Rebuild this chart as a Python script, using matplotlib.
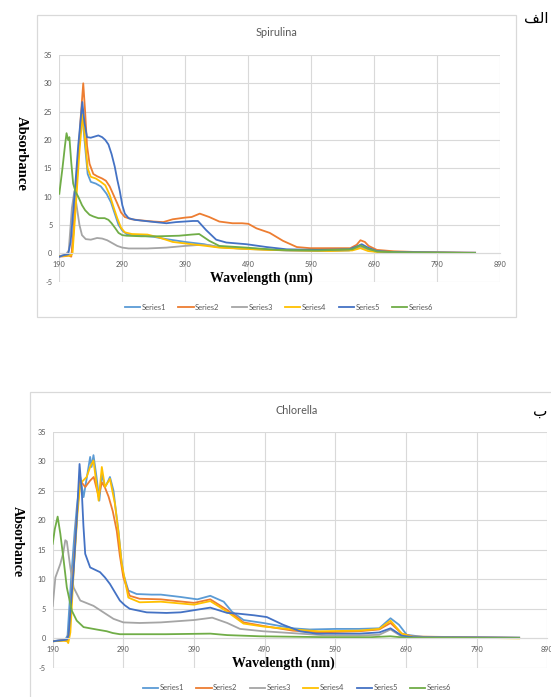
import matplotlib
matplotlib.use('Agg')
import matplotlib.pyplot as plt
from matplotlib.patches import Rectangle
from matplotlib.lines import Line2D

plt.rcParams['axes.unicode_minus'] = False

# ---------------- DATA ----------------
SERIES_NAMES = ["Series1", "Series2", "Series3", "Series4", "Series5", "Series6"]
SERIES_COLORS = ["#5B9BD5", "#ED7D31", "#A5A5A5", "#FFC000", "#4472C4", "#70AD47"]
X_TICKS = [190, 290, 390, 490, 590, 690, 790, 890]
Y_TICKS = [-5, 0, 5, 10, 15, 20, 25, 30, 35]

# Spirulina
SP_WL1 = [190, 205, 210, 215, 220, 226, 230, 235, 240, 248, 256, 265, 272, 278, 284, 290, 298, 320, 340, 360, 390, 420, 440, 470, 500, 550, 600, 650, 670, 685, 700, 750, 850]
SP_A1 = [-0.5, -0.3, 0, 8, 17, 25, 20, 14, 12.6, 12.3, 11.8, 10.5, 9, 7, 5, 4, 3.3, 3.1, 2.9, 2.5, 2.0, 1.6, 1.1, 0.9, 0.8, 0.5, 0.4, 0.5, 1.2, 0.5, 0.2, 0.1, 0.05]

SP_WL2 = [190, 200, 205, 209, 212, 218, 224, 228, 231, 234, 238, 244, 250, 258, 264, 270, 276, 282, 288, 294, 305, 320, 340, 355, 370, 390, 400, 413, 428, 444, 465, 480, 490, 503, 524, 545, 567, 588, 625, 652, 662, 668, 675, 681, 694, 721, 763, 850]
SP_A2 = [-0.6, -0.5, -0.4, -0.6, 3, 13, 24, 30, 25, 19, 15.8, 14, 13.6, 13.2, 12.8, 11.8, 10.3, 8.8, 7.2, 6.4, 6, 5.8, 5.6, 5.5, 6.0, 6.3, 6.4, 7.0, 6.4, 5.6, 5.3, 5.3, 5.2, 4.4, 3.6, 2.2, 1.1, 0.9, 0.9, 0.9, 1.5, 2.3, 2.0, 1.3, 0.6, 0.35, 0.2, 0.1]

SP_WL3 = [190, 200, 205, 210, 214, 218, 222, 226, 232, 240, 250, 258, 266, 274, 282, 290, 300, 330, 360, 390, 415, 430, 445, 480, 520, 560, 620, 655, 668, 680, 695, 730, 850]
SP_A3 = [-0.5, -0.3, 0.5, 8, 11, 8, 5, 3.2, 2.5, 2.4, 2.7, 2.6, 2.3, 1.8, 1.3, 1.0, 0.85, 0.85, 1.0, 1.3, 1.5, 1.4, 1.1, 0.8, 0.6, 0.5, 0.5, 0.6, 1.1, 0.7, 0.3, 0.15, 0.05]

SP_WL4 = [190, 208, 211, 216, 222, 227, 231, 235, 240, 248, 256, 263, 270, 276, 282, 288, 294, 305, 330, 348, 370, 400, 423, 444, 480, 520, 560, 620, 655, 668, 680, 700, 850]
SP_A4 = [-0.5, -0.4, 0, 8, 18, 24.5, 20, 15, 13.5, 13.2, 12.6, 12, 10.3, 8.2, 6.2, 4.5, 3.7, 3.4, 3.3, 2.8, 2.0, 1.6, 1.3, 1.0, 0.8, 0.6, 0.5, 0.4, 0.5, 0.9, 0.4, 0.15, 0.05]

SP_WL5 = [190, 198, 204, 208, 214, 220, 226.5, 230, 234, 240, 246, 252, 258, 263, 268, 273, 278, 282, 286, 290, 294, 300, 310, 334, 360, 375, 402, 410, 423, 439, 455, 487, 519, 551, 600, 650, 662, 670, 680, 694, 720, 850]
SP_A5 = [-0.6, -0.3, -0.2, 2, 10, 19, 26.7, 23, 20.5, 20.4, 20.6, 20.8, 20.5, 20.0, 19.2, 17.5, 15.3, 13, 11, 8.5, 7.0, 6.2, 5.9, 5.6, 5.3, 5.5, 5.7, 5.7, 4.1, 2.4, 1.9, 1.6, 1.1, 0.7, 0.6, 0.7, 1.2, 1.6, 1.0, 0.4, 0.2, 0.1]

SP_WL6 = [190, 195, 199, 201.5, 204, 206, 209, 212, 216, 220, 226, 231, 238, 244, 252, 262, 268, 273, 279, 284, 290, 297, 320, 348, 380, 400, 412, 428, 444, 487, 535, 600, 655, 668, 680, 695, 730, 850]
SP_A6 = [10.5, 15, 19, 21.2, 20, 20.5, 16, 12.3, 10.8, 10, 8.5, 7.6, 6.8, 6.5, 6.2, 6.2, 5.9, 5.3, 4.4, 3.6, 3.2, 3.1, 3.0, 3.0, 3.1, 3.3, 3.4, 2.2, 1.3, 1.0, 0.6, 0.5, 0.7, 1.4, 0.8, 0.3, 0.15, 0.05]

# Chlorella
CH_WL1 = [190, 200, 208, 211, 216, 221, 224, 229, 233.7, 238, 243, 245, 247.7, 252, 256, 259.5, 264, 268, 271, 276, 280, 283, 287, 290, 297, 308.8, 330, 343, 371, 394.7, 413, 432, 443.7, 460, 488, 530, 553.6, 591, 623.6, 652, 668, 680, 691, 717, 850]
CH_A1 = [-0.5, -0.3, -0.2, 0.5, 10, 18, 22, 27.3, 23.9, 27, 30.7, 29, 31, 27.3, 23.3, 27.8, 25.6, 26.5, 27.3, 25, 21, 18.2, 13.5, 10.9, 8.1, 7.5, 7.4, 7.4, 7.0, 6.6, 7.2, 6.2, 4.5, 3.1, 2.6, 1.7, 1.5, 1.6, 1.6, 1.7, 3.4, 2.3, 0.6, 0.2, 0.1]

CH_WL2 = [190, 205, 211, 214, 220, 225, 229, 236, 243, 248, 255, 259.5, 264, 269, 275, 280.6, 285, 290, 299, 313, 343, 390, 413, 437, 460, 488, 530, 567.6, 623.6, 652, 668, 684, 700, 850]
CH_A2 = [-0.5, -0.3, -0.5, 2, 13, 22, 26.7, 25.6, 26.7, 27.3, 24, 26.4, 25.5, 24, 21.5, 18.2, 14, 10.3, 7.2, 6.7, 6.6, 6.0, 6.6, 4.8, 2.7, 2.1, 1.3, 1.0, 1.2, 1.5, 2.6, 0.8, 0.3, 0.1]

CH_WL3 = [190, 193.8, 200.8, 205, 207.8, 210, 214.9, 219.6, 229, 247.7, 261.8, 276, 290, 313, 343, 390, 415.7, 437, 455, 488, 540, 577, 623, 652, 668, 684, 850]
CH_A3 = [5.5, 10.3, 12.6, 14.5, 16.6, 16.4, 12, 8.6, 6.4, 5.5, 4.4, 3.3, 2.7, 2.6, 2.7, 3.1, 3.5, 2.6, 1.6, 1.2, 0.8, 0.5, 0.5, 0.6, 1.5, 0.3, 0.1]

CH_WL4 = [190, 210, 212, 215, 220, 225, 229, 238, 243, 247.7, 251, 255, 259.5, 264, 271, 278, 283, 287.7, 297, 313, 343, 390, 413, 437, 460, 488, 530, 567, 623, 652, 668, 684, 700, 850]
CH_A4 = [-0.5, -0.4, -0.8, 1, 12, 21, 26.2, 27.3, 29, 30.1, 27, 23.3, 29, 25.6, 27, 22.8, 18, 12.6, 6.9, 6.1, 6.2, 5.7, 6.3, 4.5, 2.5, 2.0, 1.5, 1.2, 1.3, 1.6, 3.0, 0.8, 0.2, 0.0]

CH_WL5 = [190, 205, 210, 212.5, 216, 219.6, 224, 228, 231.3, 233.5, 236, 243, 250, 257, 264, 271, 278, 285, 292, 299, 323, 351, 371, 413, 437, 451, 475, 493, 516, 540, 563, 624, 652, 668, 684, 700, 850]
CH_A5 = [-0.5, -0.3, -0.2, 0.5, 6, 11.5, 20, 29.5, 24.5, 19, 14.3, 12, 11.6, 11.2, 10.3, 9.2, 7.8, 6.4, 5.6, 5.0, 4.4, 4.3, 4.4, 5.2, 4.3, 4.2, 3.9, 3.6, 2.3, 1.2, 0.8, 0.8, 1.0, 1.7, 0.45, 0.2, 0.1]

CH_WL6 = [190, 193, 197, 200.8, 205.5, 210, 217, 224, 233.7, 252, 266.5, 275, 285, 313, 350, 413, 437, 483, 577, 640, 668, 690, 850]
CH_A6 = [16, 18.5, 20.6, 17.7, 13.2, 8.6, 4.7, 3.0, 1.9, 1.5, 1.2, 0.9, 0.7, 0.7, 0.7, 0.8, 0.55, 0.35, 0.2, 0.2, 0.35, 0.1, 0.05]

SP_SERIES = [(SP_WL1, SP_A1), (SP_WL2, SP_A2), (SP_WL3, SP_A3), (SP_WL4, SP_A4), (SP_WL5, SP_A5), (SP_WL6, SP_A6)]
CH_SERIES = [(CH_WL1, CH_A1), (CH_WL2, CH_A2), (CH_WL3, CH_A3), (CH_WL4, CH_A4), (CH_WL5, CH_A5), (CH_WL6, CH_A6)]

# ---------------- FIGURE ----------------
W, H = 551, 697
fig = plt.figure(figsize=(W / 100, H / 100), dpi=100)
GRAY_TXT = "#595959"
GRID = "#D9D9D9"
TICK_FONT = "Lato"


def px_axes(l, t, r, b):
    return fig.add_axes([l / W, 1 - b / H, (r - l) / W, (b - t) / H])


def box(l, t, r, b):
    fig.patches.append(Rectangle((l / W, 1 - b / H), (r - l) / W, (b - t) / H,
                                 transform=fig.transFigure, fill=False,
                                 ec=GRID, lw=0.9, zorder=0))


def make_chart(rect, series, title, title_xy, xlab_xy, ylab_xy, leg_xy, ylab_size):
    ax = px_axes(*rect)
    for (wl, a), c in zip(series, SERIES_COLORS):
        ax.plot(wl, a, color=c, lw=1.3, solid_joinstyle='round')
    ax.set_xlim(190, 890)
    ax.set_ylim(-5, 35)
    ax.set_xticks(X_TICKS)
    ax.set_yticks(Y_TICKS)
    ax.grid(True, color=GRID, lw=0.8)
    ax.set_axisbelow(True)
    for s in ['top', 'right', 'left']:
        ax.spines[s].set_visible(False)
    ax.spines['bottom'].set_position(('data', 0))
    ax.spines['bottom'].set_color(GRID)
    ax.spines['bottom'].set_linewidth(0.8)
    ax.tick_params(length=0, labelsize=5.3, labelcolor=GRAY_TXT)
    ax.tick_params(axis='x', pad=5.5)
    ax.tick_params(axis='y', pad=5)
    for lab in ax.get_xticklabels() + ax.get_yticklabels():
        lab.set_fontfamily(TICK_FONT)
    ax.set_facecolor('none')

    fig.text(title_xy[0] / W, 1 - title_xy[1] / H, title, ha='center', va='center',
             fontsize=7.8, color=GRAY_TXT, family=TICK_FONT)
    fig.text(xlab_xy[0] / W, 1 - xlab_xy[1] / H, "Wavelength (nm)", ha='center', va='center',
             fontsize=10, fontweight='bold', family='Liberation Serif', color='black')
    fig.text(ylab_xy[0] / W, 1 - ylab_xy[1] / H, "Absorbance", ha='center', va='center',
             rotation=-90, fontsize=ylab_size, fontweight='bold', family='Liberation Serif',
             color='black')
    handles = [Line2D([], [], color=c, lw=1.3) for c in SERIES_COLORS]
    leg = fig.legend(handles, SERIES_NAMES, loc='center',
                     bbox_to_anchor=(leg_xy[0] / W, 1 - leg_xy[1] / H),
                     ncol=6, frameon=False, handlelength=2.0, handletextpad=0.2,
                     columnspacing=1.6, prop={'family': TICK_FONT, 'size': 5.5})
    for t in leg.get_texts():
        t.set_color(GRAY_TXT)
    return ax


# Top chart: Spirulina
box(37, 15, 516, 317)
make_chart((59.3, 55, 500.3, 281.6), SP_SERIES, "Spirulina",
           (276.5, 33), (261.5, 278), (21, 153), (279, 307), 10.5)

# Bottom chart: Chlorella
box(30, 392, 570, 710)
make_chart((52.7, 431.5, 547.4, 667.9), CH_SERIES, "Chlorella",
           (297, 410), (283, 663), (17.6, 542), (297, 688), 10)

# Panel letters (Persian)
fig.text(536 / W, 1 - 18 / H, "\ufed2\ufedf\ufe8d", ha='center', va='center',
         fontsize=11, family='DejaVu Sans', color='black')
fig.text(540 / W, 1 - 411 / H, "ب", ha='center', va='center',
         fontsize=11, family='DejaVu Sans', color='black')

fig.savefig("out.png", dpi=100)
